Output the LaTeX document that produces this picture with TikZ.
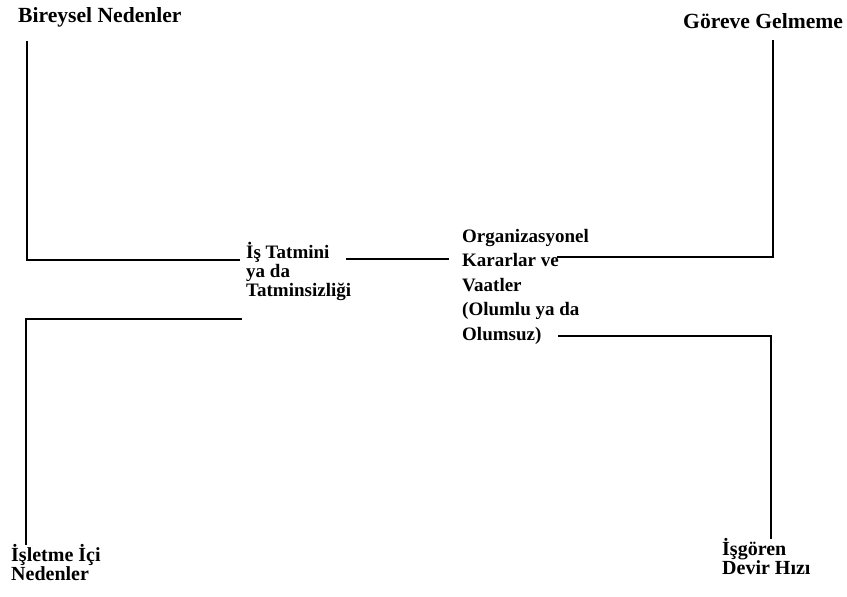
\documentclass[tikz,border=0pt]{standalone}
\usepackage{fontspec}
\setmainfont{Liberation Serif}
\begin{document}
\begin{tikzpicture}[x=1pt,y=-1pt,
  % multi-line labels: the base anchor sits on the last line
  lbl/.style={inner sep=0pt, anchor=base west, align=left,
    font=\fontsize{19}{19}\selectfont\bfseries},
  conn/.style={line width=1.8pt, line cap=rect}]
\useasboundingbox[fill=white] (0,0) rectangle (847,597);

% labels
\node[lbl, font=\fontsize{21.6}{22}\selectfont\bfseries] (bir) at (18,23) {Bireysel Nedenler};
\node[lbl, font=\fontsize{21.6}{22}\selectfont\bfseries] (gor) at (683,28) {Göreve Gelmeme};
\node[lbl] (tat) at (246,296) {İş Tatmini\\ya da\\Tatminsizliği};
\node[lbl, font=\fontsize{19}{24.5}\selectfont\bfseries] (org) at (462,340) {Organizasyonel\\Kararlar ve\\Vaatler\\(Olumlu ya da\\Olumsuz)};
\node[lbl, font=\fontsize{20}{19}\selectfont\bfseries] (ise) at (11,580) {İşletme İçi\\Nedenler};
\node[lbl, font=\fontsize{20}{19}\selectfont\bfseries] (isg) at (722,574) {İşgören\\Devir Hızı};

% corner points of the connectors
\coordinate (bTop) at (27,42);
\coordinate (bCor) at (27,260);
\coordinate (bEnd) at (239,260);
\coordinate (mBeg) at (347,259);
\coordinate (mEnd) at (448,259);
\coordinate (gTop) at (773,41);
\coordinate (gCor) at (773,257);
\coordinate (gEnd) at (558,257);
\coordinate (iBeg) at (241,319);
\coordinate (iCor) at (26,319);
\coordinate (iBot) at (26,544);
\coordinate (oBeg) at (559,336);
\coordinate (oCor) at (771,336);
\coordinate (oBot) at (771,538);

% connectors
\draw[conn] (bTop) -- (bCor) -- (bEnd);
\draw[conn] (mBeg) -- (mEnd);
\draw[conn] (gTop) -- (gCor) -- (gEnd);
\draw[conn] (iBeg) -- (iCor) -- (iBot);
\draw[conn] (oBeg) -- (oCor) -- (oBot);
\end{tikzpicture}
\end{document}
